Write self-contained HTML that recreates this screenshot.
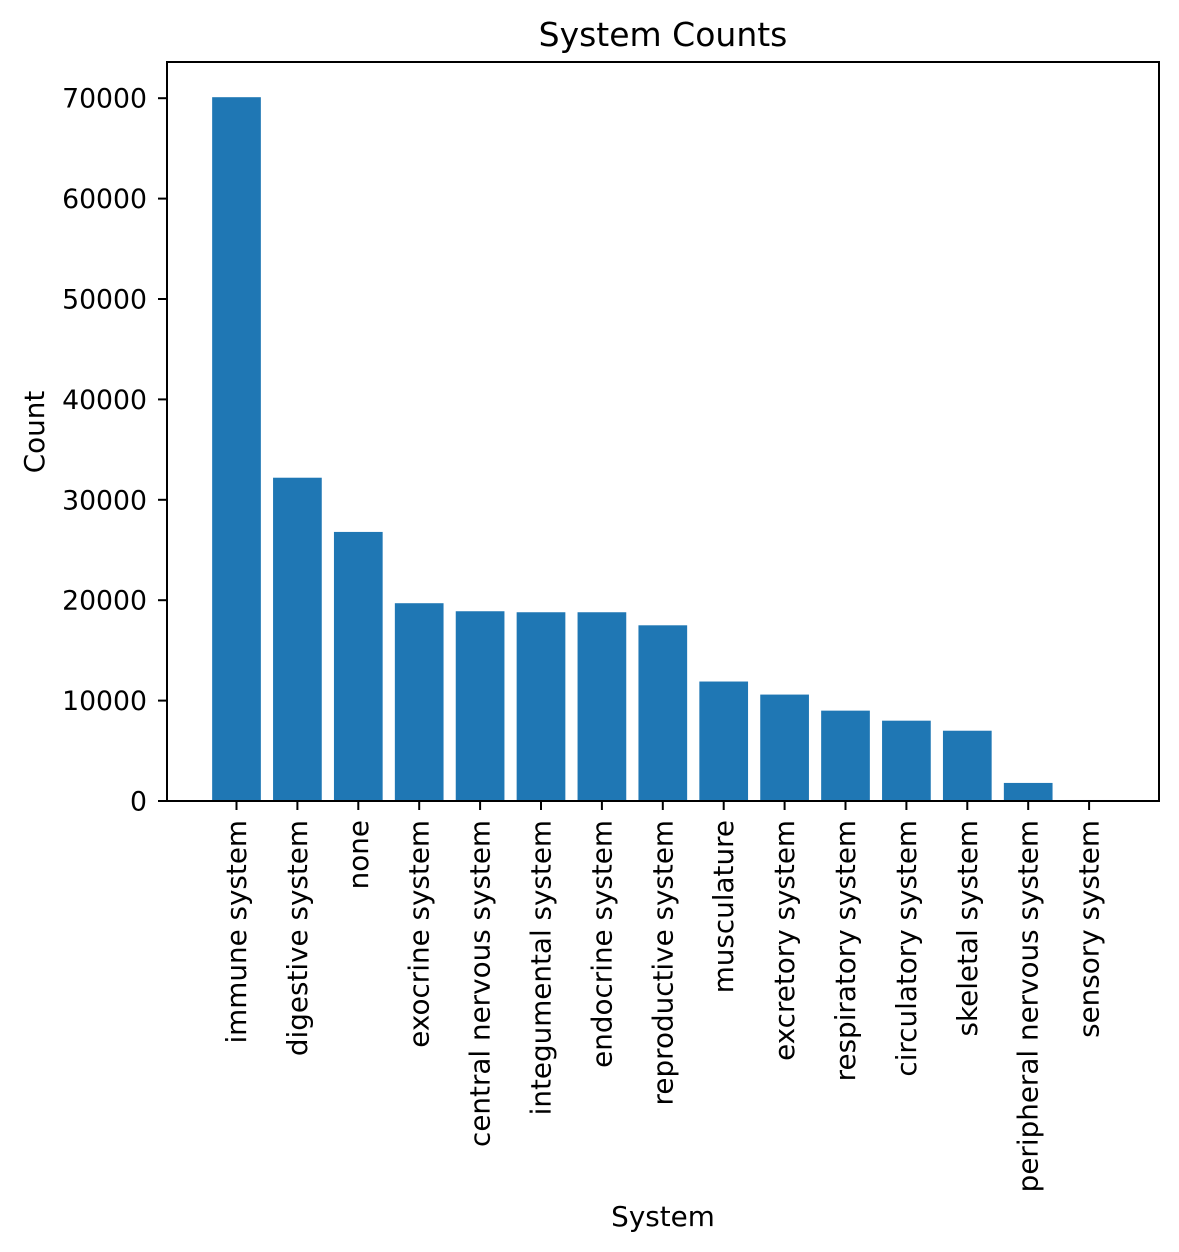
<!DOCTYPE html>
<html><head><meta charset="utf-8"><style>
html,body{margin:0;padding:0;background:#fff;}
svg{display:block;font-family:"DejaVu Sans","Liberation Sans",sans-serif;}
</style></head><body>
<svg id="chart" width="1179" height="1252" viewBox="0 0 1179 1252" xmlns="http://www.w3.org/2000/svg">
<text x="663" y="46" font-size="33" text-anchor="middle" fill="#000">System Counts</text>
<g id="bars"></g>
<g id="yticks"></g>
<g id="xticks"></g>
<rect x="167" y="62" width="992" height="739" fill="none" stroke="#000" stroke-width="2"/>
<text transform="translate(44,432) rotate(-90)" font-size="27.8" text-anchor="middle" fill="#000">Count</text>
<text x="663" y="1226" font-size="27.8" text-anchor="middle" fill="#000">System</text>
</svg>
<script>
const categories = ["immune system","digestive system","none","exocrine system","central nervous system","integumental system","endocrine system","reproductive system","musculature","excretory system","respiratory system","circulatory system","skeletal system","peripheral nervous system","sensory system"];
const counts = [70100,32200,26800,19700,18900,18800,18800,17500,11900,10600,9000,8000,7000,1800,100];
const yTicks = [0,10000,20000,30000,40000,50000,60000,70000];
const NS="http://www.w3.org/2000/svg";
const plotBottom=801, pxPer=100.4/10000;
function yScale(v){return plotBottom - v*pxPer;}
function xScale(i){return 236.5 + i*60.9;}
const bw=48.7;
const gb=document.getElementById('bars'), gy=document.getElementById('yticks'), gx=document.getElementById('xticks');
counts.forEach((v,i)=>{
  const r=document.createElementNS(NS,'rect');
  
  
  r.setAttribute('x',xScale(i)-bw/2);r.setAttribute('y',yScale(v));
  r.setAttribute('width',bw);r.setAttribute('height',plotBottom-yScale(v));
  r.setAttribute('fill','#1f77b4');gb.appendChild(r);
});
yTicks.forEach(t=>{
  const y=yScale(t);
  const l=document.createElementNS(NS,'line');
  
  
  l.setAttribute('x1',158);l.setAttribute('x2',167);l.setAttribute('y1',y);l.setAttribute('y2',y);
  l.setAttribute('stroke','#000');l.setAttribute('stroke-width','2');gy.appendChild(l);
  const tx=document.createElementNS(NS,'text');
  
  
  tx.setAttribute('x',147);tx.setAttribute('y',y+9.5);tx.setAttribute('font-size','26.7');
  tx.setAttribute('text-anchor','end');tx.textContent=t;gy.appendChild(tx);
});
categories.forEach((c,i)=>{
  const x=xScale(i);
  const l=document.createElementNS(NS,'line');
  
  
  l.setAttribute('x1',x);l.setAttribute('x2',x);l.setAttribute('y1',801);l.setAttribute('y2',810);
  l.setAttribute('stroke','#000');l.setAttribute('stroke-width','2');gx.appendChild(l);
  const tx=document.createElementNS(NS,'text');
  
  
  tx.setAttribute('transform','translate('+(x+9.5)+',820) rotate(-90)');
  tx.setAttribute('font-size','27.8');tx.setAttribute('text-anchor','end');
  tx.textContent=c;gx.appendChild(tx);
});
</script>
</body></html>
